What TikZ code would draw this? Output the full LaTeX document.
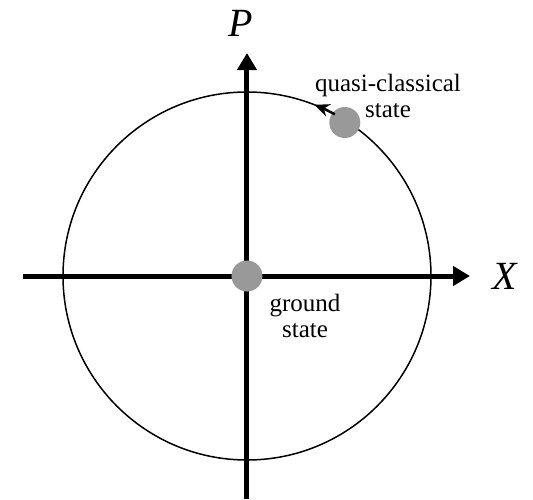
\documentclass[tikz,border=0pt]{standalone}
\usepackage{fontspec}
\setmainfont{Liberation Serif}
\usetikzlibrary{arrows.meta,positioning}
\definecolor{dotgray}{gray}{0.6}
\begin{document}
\begin{tikzpicture}[
  x=1pt, y=1pt,
  axis/.style={line width=5pt, -{Triangle[length=17pt,width=19pt]}},
  orbit/.style={line width=1.5pt},
  flow/.style={line width=2.5pt, -{Stealth[length=15pt,width=13pt]}},
  blob/.style={circle, fill=dotgray, inner sep=0pt, minimum size=31pt},
  axlab/.style={inner sep=0pt, font=\fontsize{40}{42}\selectfont\itshape},
  lab/.style={inner sep=0pt, align=center, font=\fontsize{25}{26}\selectfont}
]
  \useasboundingbox (-247,-223) rectangle (286,276);

  \coordinate (xmin) at (-224,0);
  \coordinate (xmax) at (223,0);
  \coordinate (pmin) at (0,-223);
  \coordinate (pmax) at (0,223);

  \draw[orbit] (0,0) circle[radius=184];

  \draw[axis] (xmin) -- (xmax);
  \draw[axis] (pmin) -- (pmax);
  \node[axlab, right=22pt of xmax] (xlab) {X};
  \node[axlab, above=16pt of pmax, xshift=-6pt] (plab) {P};

  % phase-space points
  \node[blob] (gs) at (0,0) {};
  \node[blob] (qc) at (57.5:182) {};
  \draw[flow] (61.5:184) arc[start angle=61.5, end angle=68.5, radius=184];

  \node[lab] (gslab) at (58,-40) {ground\\state};
  \node[lab] (qclab) at (141,180) {quasi-classical\\state};
\end{tikzpicture}
\end{document}
